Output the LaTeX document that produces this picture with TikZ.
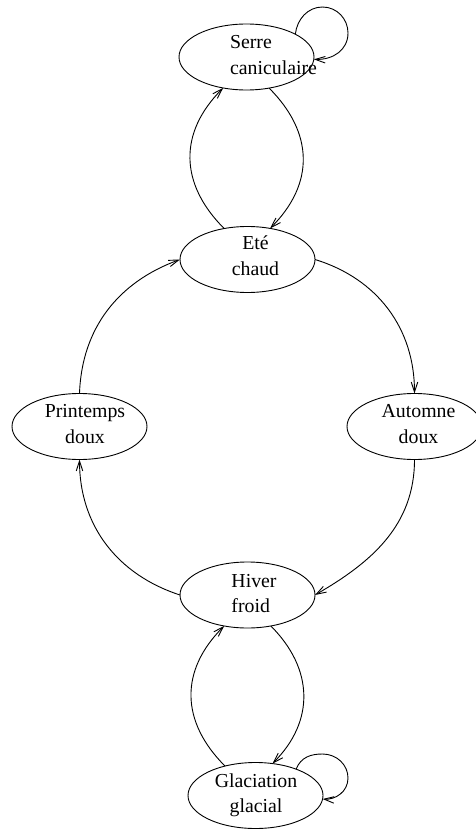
\documentclass[tikz,border=0pt]{standalone}
\usepackage{fontspec}
\setmainfont{Liberation Serif}
\usetikzlibrary{arrows.meta,shapes.geometric}
\begin{document}
\begin{tikzpicture}[x=1pt,y=1pt,
  state/.style={draw, ellipse, line width=0.9pt, minimum width=135pt, minimum height=66pt, inner sep=0pt, outer sep=0pt},
  lbl/.style={inner sep=0pt, font=\fontsize{19.8}{25.5}\selectfont},
  arr/.style={line width=0.9pt, -{Straight Barb[length=10pt,width=6.5pt,line width=0.9pt]}}]
\useasboundingbox (0,0) rectangle (475,-829);

% states
\node[state] (serre) at (246.5,-57) {};
\node[state] (ete)   at (247.5,-259.5) {};
\node[state] (print) at (79.5,-426.5) {};
\node[state] (autom) at (414.5,-426.5) {};
\node[state] (hiver) at (247.5,-595) {};
\node[state] (glac)  at (255.5,-795.5) {};

% state labels
\node[lbl, align=left]   (serre-t) at (273.5,-55)  {Serre\\caniculaire};
\node[lbl, align=center] (ete-t)   at (255.5,-255.5) {Eté\\chaud};
\node[lbl, align=center] (print-t) at (85,-424)    {Printemps\\doux};
\node[lbl, align=center] (autom-t) at (418.5,-424) {Automne\\doux};
\node[lbl, align=left]   (hiver-t) at (254,-593.5) {Hiver\\froid};
\node[lbl, align=center] (glac-t)  at (256,-795.5) {Glaciation\\glacial};

% seasonal cycle
\draw[arr] (print.north) to[out=88,in=200] (ete.west);
\draw[arr] (ete.east) to[out=-17,in=90] (autom.north);
\draw[arr] (autom.south) to[out=-90,in=30] (hiver.east);
\draw[arr] (hiver.west) to[out=162,in=-90] (print.south);

% summer <-> heat greenhouse
\draw[arr] (ete.127) to[out=135,in=225,looseness=1.15] (serre.-127);
\draw[arr] (serre.-54) to[out=-45,in=45,looseness=1.15] (ete.54);

% winter <-> glaciation
\draw[arr] (glac.136) to[out=135,in=225,looseness=1.15] (hiver.-127);
\draw[arr] (hiver.-53) to[out=-45,in=45,looseness=1.12] (glac.62);

% self loops
\draw[arr] (serre.25) .. controls (297,-19) and (308,-7) .. (322.5,-7)
  .. controls (337,-7) and (348,-19) .. (348,-33)
  .. controls (348,-50) and (333,-60) .. (serre.-2);
\draw[arr] (glac.33) .. controls (301,-757) and (311,-754) .. (322.5,-754)
  .. controls (337,-754) and (348,-765) .. (348,-778)
  .. controls (348,-792) and (335,-800) .. (glac.-3);
\end{tikzpicture}
\end{document}
